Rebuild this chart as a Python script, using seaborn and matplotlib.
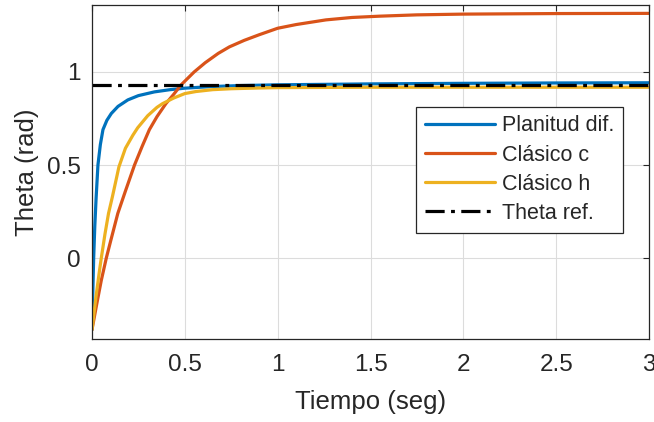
"""
Theta response: flatness-based controller vs. classic controllers.
Values read off the reference figure.
"""

import pandas as pd
import matplotlib
matplotlib.use("Agg")
import matplotlib.pyplot as plt
import seaborn as sns

# ── Data ─────────────────────────────────────────────────────────────────────

t_planitud = [0, 0.004, 0.009, 0.015, 0.022, 0.032, 0.045, 0.059, 0.08, 0.104,
              0.14, 0.193, 0.25, 0.336, 0.42, 0.5, 0.65, 0.8, 1.0, 1.5, 2.0, 2.5, 3.0]
y_planitud = [-0.385, -0.2, 0.0, 0.17, 0.32, 0.50, 0.61, 0.69, 0.74, 0.777,
              0.815, 0.85, 0.873, 0.893, 0.905, 0.913, 0.922, 0.927, 0.931, 0.936,
              0.939, 0.941, 0.942]

t_clasico_c = [0, 0.025, 0.05, 0.077, 0.1, 0.139, 0.18, 0.229, 0.27, 0.309,
               0.35, 0.398, 0.44, 0.479, 0.55, 0.61, 0.68, 0.74, 0.82, 0.9,
               1.0, 1.1, 1.26, 1.4, 1.55, 1.75, 2.0, 2.5, 3.0]
y_clasico_c = [-0.385, -0.25, -0.12, 0.0, 0.09, 0.24, 0.36, 0.50, 0.60, 0.69,
               0.76, 0.83, 0.88, 0.93, 1.00, 1.05, 1.10, 1.135, 1.17, 1.20,
               1.235, 1.255, 1.28, 1.293, 1.30, 1.307, 1.311, 1.314, 1.315]

t_clasico_h = [0, 0.02, 0.04, 0.05, 0.07, 0.089, 0.11, 0.145, 0.18, 0.22,
               0.246, 0.3, 0.35, 0.38, 0.44, 0.5, 0.56, 0.65, 0.75, 0.9,
               1.0, 1.5, 2.0, 3.0]
y_clasico_h = [-0.385, -0.22, -0.07, 0.0, 0.13, 0.24, 0.33, 0.49, 0.59, 0.66,
               0.70, 0.765, 0.81, 0.83, 0.86, 0.884, 0.895, 0.905, 0.91, 0.914,
               0.916, 0.918, 0.918, 0.918]

t_ref = [0, 3.0]
y_ref = [0.93, 0.93]

labels = ["Planitud dif.", "Clásico c", "Clásico h", "Theta ref."]
colors = ["#0072BD", "#D95319", "#EDB120", "#000000"]

x_ticks = [0, 0.5, 1, 1.5, 2, 2.5, 3]
y_ticks = [0, 0.5, 1]

# ── Plot ─────────────────────────────────────────────────────────────────────

sns.set_style("whitegrid")
plt.rcParams["font.family"] = ["Liberation Sans", "DejaVu Sans"]

series = [
    (t_planitud, y_planitud),
    (t_clasico_c, y_clasico_c),
    (t_clasico_h, y_clasico_h),
    (t_ref, y_ref),
]

fig = plt.figure(figsize=(6.54, 4.22), dpi=100)
ax = fig.add_axes([92 / 654, 1 - 339 / 422, 557 / 654, 334 / 422])

for (t, y), lab, col in zip(series, labels, colors):
    df = pd.DataFrame({"t": t, "y": y})
    ls = (0, (6, 2, 1.2, 2)) if lab == "Theta ref." else "-"
    sns.lineplot(data=df, x="t", y="y", ax=ax, color=col, linewidth=2.3,
                 linestyle=ls, label=lab, estimator=None, sort=False)

ax.set_xlim(0, 3)
ax.set_ylim(-0.435, 1.36)
ax.set_xticks(x_ticks)
ax.set_xticklabels(["0", "0.5", "1", "1.5", "2", "2.5", "3"])
ax.set_yticks(y_ticks)
ax.set_yticklabels(["0", "0.5", "1"])

ax.grid(True, color="#dcdcdc", linewidth=0.8)
for sp in ax.spines.values():
    sp.set_color("#262626")
    sp.set_linewidth(0.9)
ax.tick_params(direction="in", length=4, width=0.8, top=True, right=True,
               colors="#262626", labelsize=17.5)
ax.tick_params(axis="x", pad=11)
ax.tick_params(axis="y", pad=8)

ax.set_xlabel("Tiempo (seg)", fontsize=18.5, color="#262626", labelpad=10)
ax.set_ylabel("Theta (rad)", fontsize=18.5, color="#262626", labelpad=6)

leg = ax.legend(loc="upper right", bbox_to_anchor=(0.953, 0.695), fontsize=15.5,
                frameon=True, fancybox=False, handlelength=3.25, handletextpad=0.33,
                labelspacing=0.38, borderpad=0.4, borderaxespad=0)
leg.get_frame().set_edgecolor("#262626")
leg.get_frame().set_linewidth(0.9)
leg.get_frame().set_alpha(1)

fig.savefig("out.png", dpi=100)
